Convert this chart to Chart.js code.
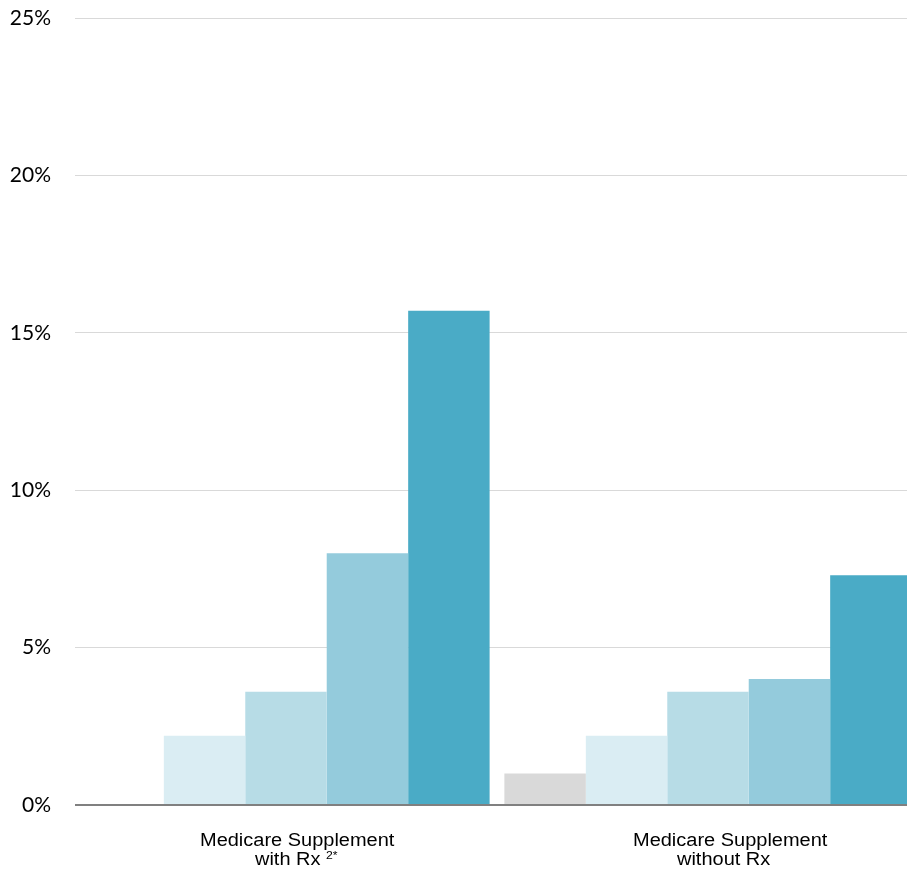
<!DOCTYPE html>
<html>
<head>
<meta charset="utf-8">
<script src="https://cdn.jsdelivr.net/npm/chart.js@4.4.1/dist/chart.umd.min.js"></script>
<style>
  html, body { margin: 0; padding: 0; background: #fff; overflow: hidden; }
  #wrap { position: relative; width: 919px; height: 874px; }
</style>
</head>
<body>
<div id="wrap"><canvas id="graphCanvas"></canvas></div>
<script>
// categories and series (percent)
const categories = ['Medicare Supplement with Rx', 'Medicare Supplement without Rx'];
const seriesNames = ['Series 1', 'Series 2', 'Series 3', 'Series 4', 'Series 5'];
const series1 = [null, 1.0];
const series2 = [2.2, 2.2];
const series3 = [3.6, 3.6];
const series4 = [8.0, 4.0];
const series5 = [15.7, 7.3];
const yTicks = [0, 5, 10, 15, 20, 25];

const colors = ['#d9d9d9', '#daedf3', '#b7dce6', '#94cbdc', '#4aabc6'];

// x labels are painted by hand so the footnote mark can be superscript
const xLabelPlugin = {
  id: 'xLabels',
  afterDraw(chart) {
    const ctx = chart.ctx;
    const x = chart.scales.x;
    const stretch = 1.11;
    const lines = [
      [['Medicare Supplement', -86], ['with Rx', -31, '2*']],
      [['Medicare Supplement', -75], ['without Rx', -31]]
    ];
    lines.forEach((ls, i) => {
      const cx = x.getPixelForValue(i);
      ls.forEach((l, j) => {
        const base = chart.chartArea.bottom + 41 + j * 19;
        ctx.save();
        ctx.fillStyle = '#000';
        ctx.textAlign = 'left';
        ctx.textBaseline = 'alphabetic';
        ctx.translate(cx + l[1], base);
        ctx.scale(stretch, 1);
        ctx.font = '18px "Liberation Sans", Arial, sans-serif';
        ctx.fillText(l[0], 0, 0);
        if (l[2]) {
          const w = ctx.measureText(l[0] + ' ').width;
          ctx.font = '11px "Liberation Sans", Arial, sans-serif';
          ctx.fillText(l[2], w, -6);
        }
        ctx.restore();
      });
    });
  }
};

const chartdata = {
  labels: categories,
  datasets: [series1, series2, series3, series4, series5].map((d, i) => ({
    label: seriesNames[i],
    data: d,
    backgroundColor: colors[i],
    borderWidth: 0,
    barPercentage: 1.0,
    categoryPercentage: 0.965
  }))
};

new Chart(document.getElementById('graphCanvas'), {
  type: 'bar',
  data: chartdata,
  options: {
    responsive: true,
    maintainAspectRatio: false,
    animation: false,
    layout: { padding: { top: 18, bottom: 61, left: 0, right: 0 } },
    plugins: {
      legend: { display: false },
      tooltip: { enabled: false }
    },
    scales: {
      x: {
        grid: { display: false },
        border: { display: false },
        ticks: { display: false }
      },
      y: {
        min: 0,
        max: 25,
        afterFit(scale) {
          scale.width = 75;
          scale.paddingTop = 0;
          scale.paddingBottom = 0;
        },
        afterBuildTicks(scale) { scale.ticks = yTicks.map(v => ({ value: v })); },
        border: { display: false },
        grid: {
          drawTicks: false,
          color: c => c.tick && c.tick.value === 0 ? '#808080' : '#d9d9d9',
          lineWidth: c => c.tick && c.tick.value === 0 ? 2 : 1
        },
        ticks: {
          padding: 24,
          color: '#000',
          font: { family: 'Lato, "Open Sans", sans-serif', size: 21 },
          callback: v => v + '%'
        }
      }
    }
  },
  plugins: [xLabelPlugin]
});
</script>
</body>
</html>
